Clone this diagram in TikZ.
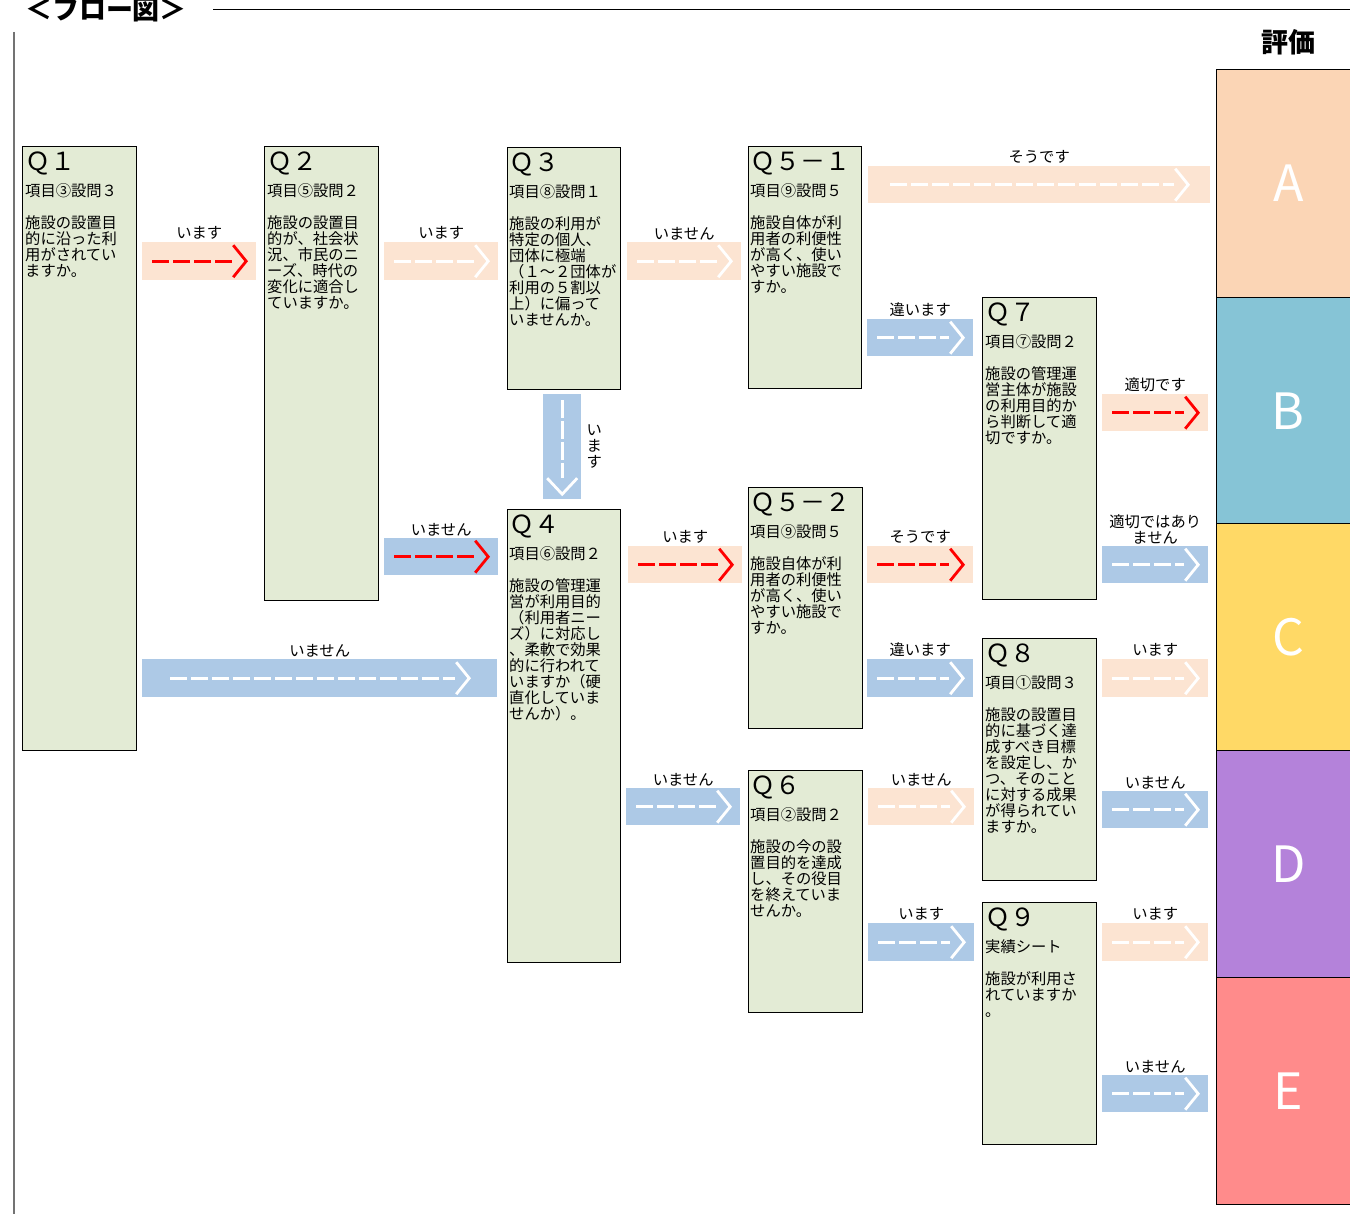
\documentclass[tikz,border=0pt]{standalone}
\usepackage{fontspec}
\setmainfont{Noto Sans CJK JP}
\usetikzlibrary{positioning}
\definecolor{boxgreen}{HTML}{E3EBD5}
\definecolor{bandpeach}{HTML}{FCE4D2}
\definecolor{bandblue}{HTML}{ADC9E6}
\definecolor{evA}{HTML}{FBD5B5}
\definecolor{evB}{HTML}{86C4D6}
\definecolor{evC}{HTML}{FFD966}
\definecolor{evD}{HTML}{B482DA}
\definecolor{evE}{HTML}{FF8B8B}
\newcommand{\qtxt}[3]{{\fontsize{25}{23}\selectfont #1\par}\vspace{7pt}#2\par\vspace{16pt}#3}

\begin{document}
\begin{tikzpicture}[x=1pt,y=-1pt,
  qbox/.style={draw=black,thin,fill=boxgreen,anchor=north west,
    minimum width=114pt,inner sep=0pt},
  qtext/.style={anchor=north west,inner sep=0pt,text width=112pt,align=left,
    font=\fontsize{15.3}{16}\selectfont},
  band/.style n args={3}{anchor=north west,fill=#1,inner sep=0pt,minimum height=37pt,
    path picture={
      \draw[#2,line width=2.8pt,dash pattern=on 17pt off 4pt]
        ([xshift=#3]path picture bounding box.west)--([xshift=-#3-14pt]path picture bounding box.east);
      \draw[#2,line width=2.8pt]
        ([xshift=-#3-13pt,yshift=16pt]path picture bounding box.east)
        --([xshift=-#3]path picture bounding box.east)
        --([xshift=-#3-13pt,yshift=-16pt]path picture bounding box.east);}},
  vband/.style 2 args={anchor=north west,fill=#1,inner sep=0pt,
    minimum width=38pt,minimum height=105pt,
    path picture={
      \draw[#2,line width=2.8pt,dash pattern=on 18pt off 3pt]
        ([yshift=-6pt]path picture bounding box.north)--([yshift=21pt]path picture bounding box.south);
      \draw[#2,line width=2.8pt]
        ([xshift=-15pt,yshift=21pt]path picture bounding box.south)
        --([yshift=5pt]path picture bounding box.south)
        --([xshift=15pt,yshift=21pt]path picture bounding box.south);}},
  lab/.style={inner sep=0pt,align=center,font=\fontsize{15.3}{16}\selectfont},
  evalbox/.style={draw=black,thin,anchor=north west,minimum width=144pt,
    minimum height=227pt,inner sep=0pt,text=white,font=\fontsize{50}{50}\selectfont}
]
  \useasboundingbox (0,0) rectangle (1350,1214);

  % heading
  \node[inner sep=0pt,font=\bfseries\fontsize{27}{27}\selectfont] (title) at (106,10) {＜フロー図＞};
  \draw[black,thin] (213,9)--(1350,9);
  \draw[black!55,line width=1.6pt] (14,32)--(14,1214);
  \node[inner sep=0pt,font=\bfseries\fontsize{27}{27}\selectfont] (hyoka) at (1288,42) {評価};

  % evaluation column
  \node[evalbox,fill=evA,minimum height=228pt] (eA) at (1216,69) {A};
  \node[evalbox,fill=evB] (eB) at (1216,297) {B};
  \node[evalbox,fill=evC] (eC) at (1216,523) {C};
  \node[evalbox,fill=evD] (eD) at (1216,750) {D};
  \node[evalbox,fill=evE] (eE) at (1216,977) {E};

  % question boxes
  \node[qbox,minimum height=604pt] (q1) at (22,146) {};
  \node[qbox,minimum height=454pt] (q2) at (264,146) {};
  \node[qbox,minimum width=113pt,minimum height=242pt] (q3) at (507,147) {};
  \node[qbox,minimum width=113pt,minimum height=453pt] (q4) at (507,509) {};
  \node[qbox,minimum width=113pt,minimum height=242pt] (q51) at (748,146) {};
  \node[qbox,minimum height=241pt] (q52) at (748,487) {};
  \node[qbox,minimum height=242pt] (q6) at (748,770) {};
  \node[qbox,minimum height=302pt] (q7) at (982,297) {};
  \node[qbox,minimum height=242pt] (q8) at (982,638) {};
  \node[qbox,minimum height=242pt] (q9) at (982,902) {};

  \node[qtext] (q1t) at ([shift={(3,6)}]q1.north west) {\qtxt{Ｑ１}{項目③設問３}{施設の設置目\\的に沿った利\\用がされてい\\ますか。}};
  \node[qtext] (q2t) at ([shift={(3,6)}]q2.north west) {\qtxt{Ｑ２}{項目⑤設問２}{施設の設置目\\的が、社会状\\況、市民のニ\\ーズ、時代の\\変化に適合し\\ていますか。}};
  \node[qtext] (q3t) at ([shift={(2,6)}]q3.north west) {\qtxt{Ｑ３}{項目⑧設問１}{施設の利用が\\特定の個人、\\団体に極端\\（１～２団体が\\利用の５割以\\上）に偏って\\いませんか。}};
  \node[qtext] (q4t) at ([shift={(2,6)}]q4.north west) {\qtxt{Ｑ４}{項目⑥設問２}{施設の管理運\\営が利用目的\\（利用者ニー\\ズ）に対応し\\、柔軟で効果\\的に行われて\\いますか（硬\\直化していま\\せんか）。}};
  \node[qtext] (q51t) at ([shift={(2,6)}]q51.north west) {\qtxt{Ｑ５－１}{項目⑨設問５}{施設自体が利\\用者の利便性\\が高く、使い\\やすい施設で\\すか。}};
  \node[qtext] (q52t) at ([shift={(2,6)}]q52.north west) {\qtxt{Ｑ５－２}{項目⑨設問５}{施設自体が利\\用者の利便性\\が高く、使い\\やすい施設で\\すか。}};
  \node[qtext] (q6t) at ([shift={(2,6)}]q6.north west) {\qtxt{Ｑ６}{項目②設問２}{施設の今の設\\置目的を達成\\し、その役目\\を終えていま\\せんか。}};
  \node[qtext] (q7t) at ([shift={(3,6)}]q7.north west) {\qtxt{Ｑ７}{項目⑦設問２}{施設の管理運\\営主体が施設\\の利用目的か\\ら判断して適\\切ですか。}};
  \node[qtext] (q8t) at ([shift={(3,6)}]q8.north west) {\qtxt{Ｑ８}{項目①設問３}{施設の設置目\\的に基づく達\\成すべき目標\\を設定し、か\\つ、そのこと\\に対する成果\\が得られてい\\ますか。}};
  \node[qtext] (q9t) at ([shift={(3,6)}]q9.north west) {\qtxt{Ｑ９}{実績シート}{施設が利用さ\\れていますか\\。}};

  % answer arrows
  \node[band={bandpeach}{red}{10pt},minimum width=114pt,minimum height=38pt] (b1) at (142,242) {};
  \node[band={bandpeach}{white}{10pt},minimum width=114pt,minimum height=38pt] (b2) at (384,242) {};
  \node[band={bandpeach}{white}{10pt},minimum width=114pt,minimum height=38pt] (b3) at (627,242) {};
  \node[band={bandpeach}{white}{22pt},minimum width=342pt] (b4) at (868,166) {};
  \node[band={bandblue}{white}{10pt},minimum width=106pt] (b5) at (867,319) {};
  \node[band={bandpeach}{red}{10pt},minimum width=106pt] (b6) at (1102,394) {};
  \node[band={bandblue}{white}{10pt},minimum width=106pt] (b7) at (1102,546) {};
  \node[vband={bandblue}{white}] (b8) at (543,394) {};
  \node[band={bandblue}{red}{10pt},minimum width=114pt] (b9) at (384,538) {};
  \node[band={bandblue}{white}{28pt},minimum width=355pt,minimum height=38pt] (b10) at (142,659) {};
  \node[band={bandpeach}{red}{10pt},minimum width=114pt] (b11) at (628,546) {};
  \node[band={bandblue}{white}{10pt},minimum width=114pt] (b12) at (626,788) {};
  \node[band={bandpeach}{red}{10pt},minimum width=106pt] (b13) at (867,546) {};
  \node[band={bandblue}{white}{10pt},minimum width=106pt,minimum height=38pt] (b14) at (867,659) {};
  \node[band={bandpeach}{white}{10pt},minimum width=106pt] (b15) at (868,788) {};
  \node[band={bandpeach}{white}{10pt},minimum width=106pt,minimum height=38pt] (b16) at (1102,659) {};
  \node[band={bandblue}{white}{10pt},minimum width=106pt] (b17) at (1102,791) {};
  \node[band={bandblue}{white}{10pt},minimum width=106pt,minimum height=38pt] (b18) at (868,923) {};
  \node[band={bandpeach}{white}{10pt},minimum width=106pt,minimum height=38pt] (b19) at (1102,923) {};
  \node[band={bandblue}{white}{10pt},minimum width=106pt] (b20) at (1102,1075) {};

  % arrow labels
  \node[lab,above=2pt of b1] (l1) {います};
  \node[lab,above=2pt of b2] (l2) {います};
  \node[lab,above=2pt of b3] (l3) {いません};
  \node[lab,above=2pt of b4] (l4) {そうです};
  \node[lab,above=2pt of b5] (l5) {違います};
  \node[lab,above=2pt of b6] (l6) {適切です};
  \node[lab,above=2pt of b7] (l7) {適切ではあり\\ません};
  \node[lab,right=5pt of b8] (l8) {い\\ま\\す};
  \node[lab,above=2pt of b9] (l9) {いません};
  \node[lab,above=2pt of b10] (l10) {いません};
  \node[lab,above=2pt of b11] (l11) {います};
  \node[lab,above=2pt of b12] (l12) {いません};
  \node[lab,above=2pt of b13] (l13) {そうです};
  \node[lab,above=2pt of b14] (l14) {違います};
  \node[lab,above=2pt of b15] (l15) {いません};
  \node[lab,above=2pt of b16] (l16) {います};
  \node[lab,above=2pt of b17] (l17) {いません};
  \node[lab,above=2pt of b18] (l18) {います};
  \node[lab,above=2pt of b19] (l19) {います};
  \node[lab,above=2pt of b20] (l20) {いません};
\end{tikzpicture}
\end{document}
